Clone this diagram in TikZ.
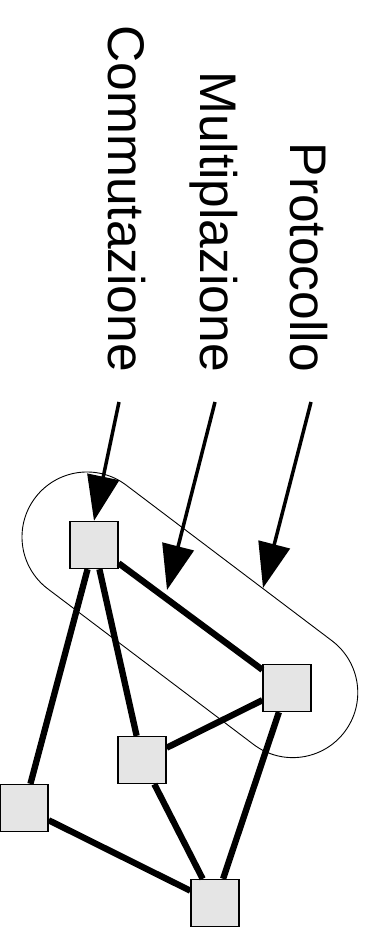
\documentclass[tikz,border=0pt]{standalone}
\usepackage{fontspec}
\setmainfont{Liberation Sans}
\usetikzlibrary{arrows.meta}
\definecolor{boxgray}{RGB}{229,229,229}
\begin{document}
\begin{tikzpicture}[x=1pt,y=1pt,
  switchbox/.style={draw=black,line width=1.3pt,fill=boxgray,rectangle,
    minimum width=48pt,minimum height=47pt,inner sep=0pt},
  link/.style={line width=6.3pt},
  label/.style={rotate=-90,anchor=base east,inner sep=0pt,
    font=\fontsize{51.5pt}{60pt}\selectfont},
  pointer/.style={line width=3.5pt,-{Triangle[length=45pt,width=32pt]}},
  outline/.style={line width=0.9pt}]
\useasboundingbox (0,0) rectangle (368,928);

% layer labels
\node[label] (comm) at (108,556) {Commutazione};
\node[label] (mult) at (200,556) {Multiplazione};
\node[label] (prot) at (290,556) {Protocollo};

% boundary around the link A-B
\draw[outline,shift={(87,391)},rotate=-37.1]
  (0,65pt) -- (258pt,65pt) arc[start angle=90,end angle=-90,radius=65pt]
  -- (0,-65pt) arc[start angle=270,end angle=90,radius=65pt] -- cycle;

% network nodes
\node[switchbox] (A) at (94,383) {};
\node[switchbox] (B) at (287,240) {};
\node[switchbox] (C) at (142,168) {};
\node[switchbox] (D) at (24,120) {};
\node[switchbox] (E) at (215,25) {};

% links
\draw[link] (A) -- (B);
\draw[link] (A) -- (C);
\draw[link] (A) -- (D);
\draw[link] (C) -- (B);
\draw[link] (C) -- (E);
\draw[link] (B) -- (E);
\draw[link] (D) -- (E);

% pointers from the labels
\coordinate (commS) at (119,526);
\coordinate (multS) at (215,526);
\coordinate (protS) at (311,526);
\coordinate (multT) at (167,338);
\coordinate (protT) at (263,340);
\draw[pointer] (commS) -- (A.north);
\draw[pointer] (multS) -- (multT);
\draw[pointer] (protS) -- (protT);
\end{tikzpicture}
\end{document}
